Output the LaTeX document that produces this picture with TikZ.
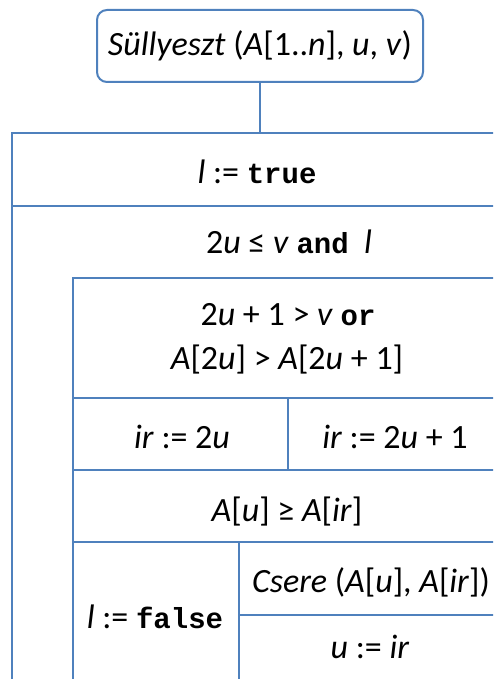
\documentclass[tikz,border=0pt]{standalone}
\usepackage{fontspec}
\setmainfont{Carlito}
\setmonofont{Liberation Mono}
\usetikzlibrary{positioning}
\definecolor{nsblue}{HTML}{4F81BD}
\tikzset{
  nsline/.style={draw=nsblue, line width=2pt},
  nstext/.style={font=\fontsize{34}{39}\selectfont, inner sep=0pt},
}
\newcommand{\kw}[1]{{\fontsize{29}{34}\selectfont\texttt{\bfseries #1}}}
\newcommand{\vr}[1]{\textit{#1}}

\begin{document}
\begin{tikzpicture}[x=1pt, y=-1pt]
    \clip (0,0) rectangle (493,679);
    \node[nsline, nstext, rounded corners=10pt, minimum width=326pt, minimum height=72pt] (head) at (260,46) {\vr{Süllyeszt} (\vr{A}[1..\vr{n}], \vr{u}, \vr{v})};
    \coordinate (frame) at (260,133);
    \draw[nsline] (head) -- (frame);
    \draw[nsline] (12,679) -- (12,133) -- (502,133);
    \draw[nsline] (12,206) -- (502,206);
    \draw[nsline] (73,679) -- (73,278) -- (502,278);
    \draw[nsline] (73,398) -- (502,398);
    \draw[nsline] (288,398) -- (288,470);
    \draw[nsline] (73,470) -- (502,470);
    \draw[nsline] (73,542) -- (502,542);
    \draw[nsline] (239,542) -- (239,679);
    \draw[nsline] (239,615) -- (502,615);
    \node[nstext] (init) at (257,172) {\vr{l} := \kw{true}};
    \node[nstext] (cond) at (289,242) {2\vr{u} ≤ \vr{v} \kw{and}\ \ \vr{l}};
    \node[nstext] (test1) at (288,315) {2\vr{u} + 1 > \vr{v} \kw{or}};
    \node[nstext] (test2) at (287,360) {\vr{A}[2\vr{u}] > \vr{A}[2\vr{u} + 1]};
    \node[nstext] (left) at (182,437) {\vr{ir} := 2\vr{u}};
    \node[nstext] (right) at (395,437) {\vr{ir} := 2\vr{u} + 1};
    \node[nstext] (cmp) at (287,512) {\vr{A}[\vr{u}] ≥ \vr{A}[\vr{ir}]};
    \node[nstext] (stop) at (155,617) {\vr{l} := \kw{false}};
    \node[nstext] (swap) at (371,582) {\vr{Csere} (\vr{A}[\vr{u}], \vr{A}[\vr{ir}])};
    \node[nstext] (move) at (370,647) {\vr{u} := \vr{ir}};
\end{tikzpicture}
\end{document}
